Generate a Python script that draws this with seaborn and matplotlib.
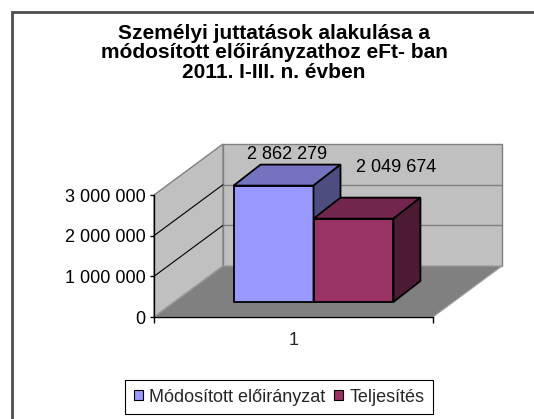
import numpy as np
import pandas as pd
import matplotlib
matplotlib.use("Agg")
import matplotlib.pyplot as plt
import seaborn as sns
from matplotlib.patches import Polygon, Patch, Rectangle

# data
title = "Személyi juttatások alakulása a\nmódosított előirányzathoz eFt- ban\n2011. I-III. n. évben"
categories = ["1"]
series = ["Módosított előirányzat", "Teljesítés"]
values = [2862279, 2049674]
yticks = [0, 1000000, 2000000, 3000000]

front_colors = ["#9999FF", "#993366"]
top_colors = ["#7373BF", "#73264D"]
side_colors = ["#4D4D80", "#4D1A33"]
label_offsets = [(14, 31), (43, 51)]   # pixels, Excel style label placement

sns.set_theme(style="white")
plt.rcParams["font.family"] = ["Liberation Sans", "DejaVu Sans"]

W, H = 534, 419
fig = plt.figure(figsize=(W / 100, H / 100), dpi=100)
fig.patch.set_facecolor("white")


def px_rect(left, bottom_y, width, height):
    return [left / W, 1 - bottom_y / H, width / W, height / H]


ymax = yticks[-1]
ax = fig.add_axes(px_rect(154, 317, 279, 122))
ax_bars = fig.add_axes(px_rect(174, 302, 279, 122))

# outer chart frame (cut off on right/bottom like the reference)
fig.add_artist(Rectangle((12 / W, -0.05), 1.1, 1 - 12 / H + 0.05, transform=fig.transFigure,
                         fill=False, edgecolor="#4d4d4d", lw=2))

# 3d walls and floor in front-axis data units
wdx = 69 / 279
wdy = 51 / 122 * ymax
ax.add_patch(Rectangle((-0.5 + wdx, wdy), 1, ymax, facecolor="#C0C0C0", edgecolor="#808080",
                       lw=1, clip_on=False, zorder=0.5))
ax.add_patch(Polygon([(-0.5, 0), (-0.5 + wdx, wdy), (-0.5 + wdx, ymax + wdy), (-0.5, ymax)],
                     closed=True, facecolor="#C0C0C0", edgecolor="#808080", lw=1,
                     clip_on=False, zorder=0.5))
for v in yticks[1:-1]:
    ax.plot([-0.5, -0.5 + wdx], [v, v + wdy], color="black", lw=0.8, clip_on=False, zorder=0.6)
    ax.plot([-0.5 + wdx, 0.5 + wdx], [v + wdy, v + wdy], color="#808080", lw=1, clip_on=False, zorder=0.6)
ax.add_patch(Polygon([(-0.5, 0), (0.5, 0), (0.5 + wdx, wdy), (-0.5 + wdx, wdy)], closed=True,
                     facecolor="#808080", edgecolor="#a0a0a0", lw=0.8, clip_on=False, zorder=0.7))

ax.set_xlim(-0.5, 0.5)
ax.set_ylim(0, ymax)
ax.set_facecolor("none")
ax.set_yticks(yticks)
ax.set_yticklabels([f"{v:,}".replace(",", " ") for v in yticks])
ax.set_xticks([-0.5, 0.5])
ax.set_xticklabels(["", ""])
ax.set_xticks([0], minor=True)
ax.set_xticklabels(categories, minor=True)
ax.tick_params(axis="y", left=True, direction="out", length=3, width=1, colors="black",
               labelsize=13, pad=3)
ax.tick_params(axis="x", which="major", bottom=True, direction="out", length=4, width=1, colors="black")
ax.tick_params(axis="x", which="minor", bottom=False, length=0, pad=11, labelsize=13)
for s in ["top", "right"]:
    ax.spines[s].set_visible(False)
for s in ["left", "bottom"]:
    ax.spines[s].set_color("black")
    ax.spines[s].set_linewidth(1)
ax.set_xlabel("")
ax.set_ylabel("")

# bars
df = pd.DataFrame({"kategoria": categories * len(series), "sorozat": series, "ertek": values})
sns.barplot(data=df, x="kategoria", y="ertek", hue="sorozat", hue_order=series,
            palette=front_colors, saturation=1, width=0.573, ax=ax_bars, legend=False,
            edgecolor="black", linewidth=1.3)
ax_bars.set_xlim(-0.5, 0.5)
ax_bars.set_ylim(0, ymax)
ax_bars.set_axis_off()

bdx = 27 / 279
bdy = 21 / 122 * ymax
bars = list(ax_bars.patches)
for i, p in enumerate(bars):
    p.set_zorder(2 + i)
    p.set_clip_on(False)
    x0, w, h = p.get_x(), p.get_width(), p.get_height()
    top = Polygon([(x0, h), (x0 + w, h), (x0 + w + bdx, h + bdy), (x0 + bdx, h + bdy)], closed=True,
                  facecolor=top_colors[i], edgecolor="black", lw=1.3, clip_on=False, zorder=2 + i)
    side = Polygon([(x0 + w, 0), (x0 + w + bdx, bdy), (x0 + w + bdx, h + bdy), (x0 + w, h)], closed=True,
                   facecolor=side_colors[i], edgecolor="black", lw=1.3, clip_on=False, zorder=2 + i)
    ax_bars.add_patch(top)
    ax_bars.add_patch(side)
    ax_bars.annotate(f"{values[i]:,}".replace(",", " "), xy=(x0 + w / 2, h),
                     xytext=label_offsets[i], textcoords="offset pixels", ha="center", va="center",
                     fontsize=13, color="black", annotation_clip=False, zorder=10)

fig.text(274 / W, 1 - 53 / H, title, ha="center", va="center", fontsize=15, fontweight="bold",
         linespacing=1.02, color="black")

handles = [Patch(facecolor=c, edgecolor="black", lw=0.8) for c in front_colors]
leg = fig.legend(handles, series, loc="center", bbox_to_anchor=(279 / W, 1 - 397 / H), ncol=2,
                 frameon=True, fancybox=False, edgecolor="black", framealpha=1, fontsize=13,
                 handlelength=0.5, handleheight=0.5, handletextpad=0.35, columnspacing=0.5,
                 borderpad=0.45)
leg.get_frame().set_linewidth(0.8)

fig.savefig("out.png", dpi=100)
